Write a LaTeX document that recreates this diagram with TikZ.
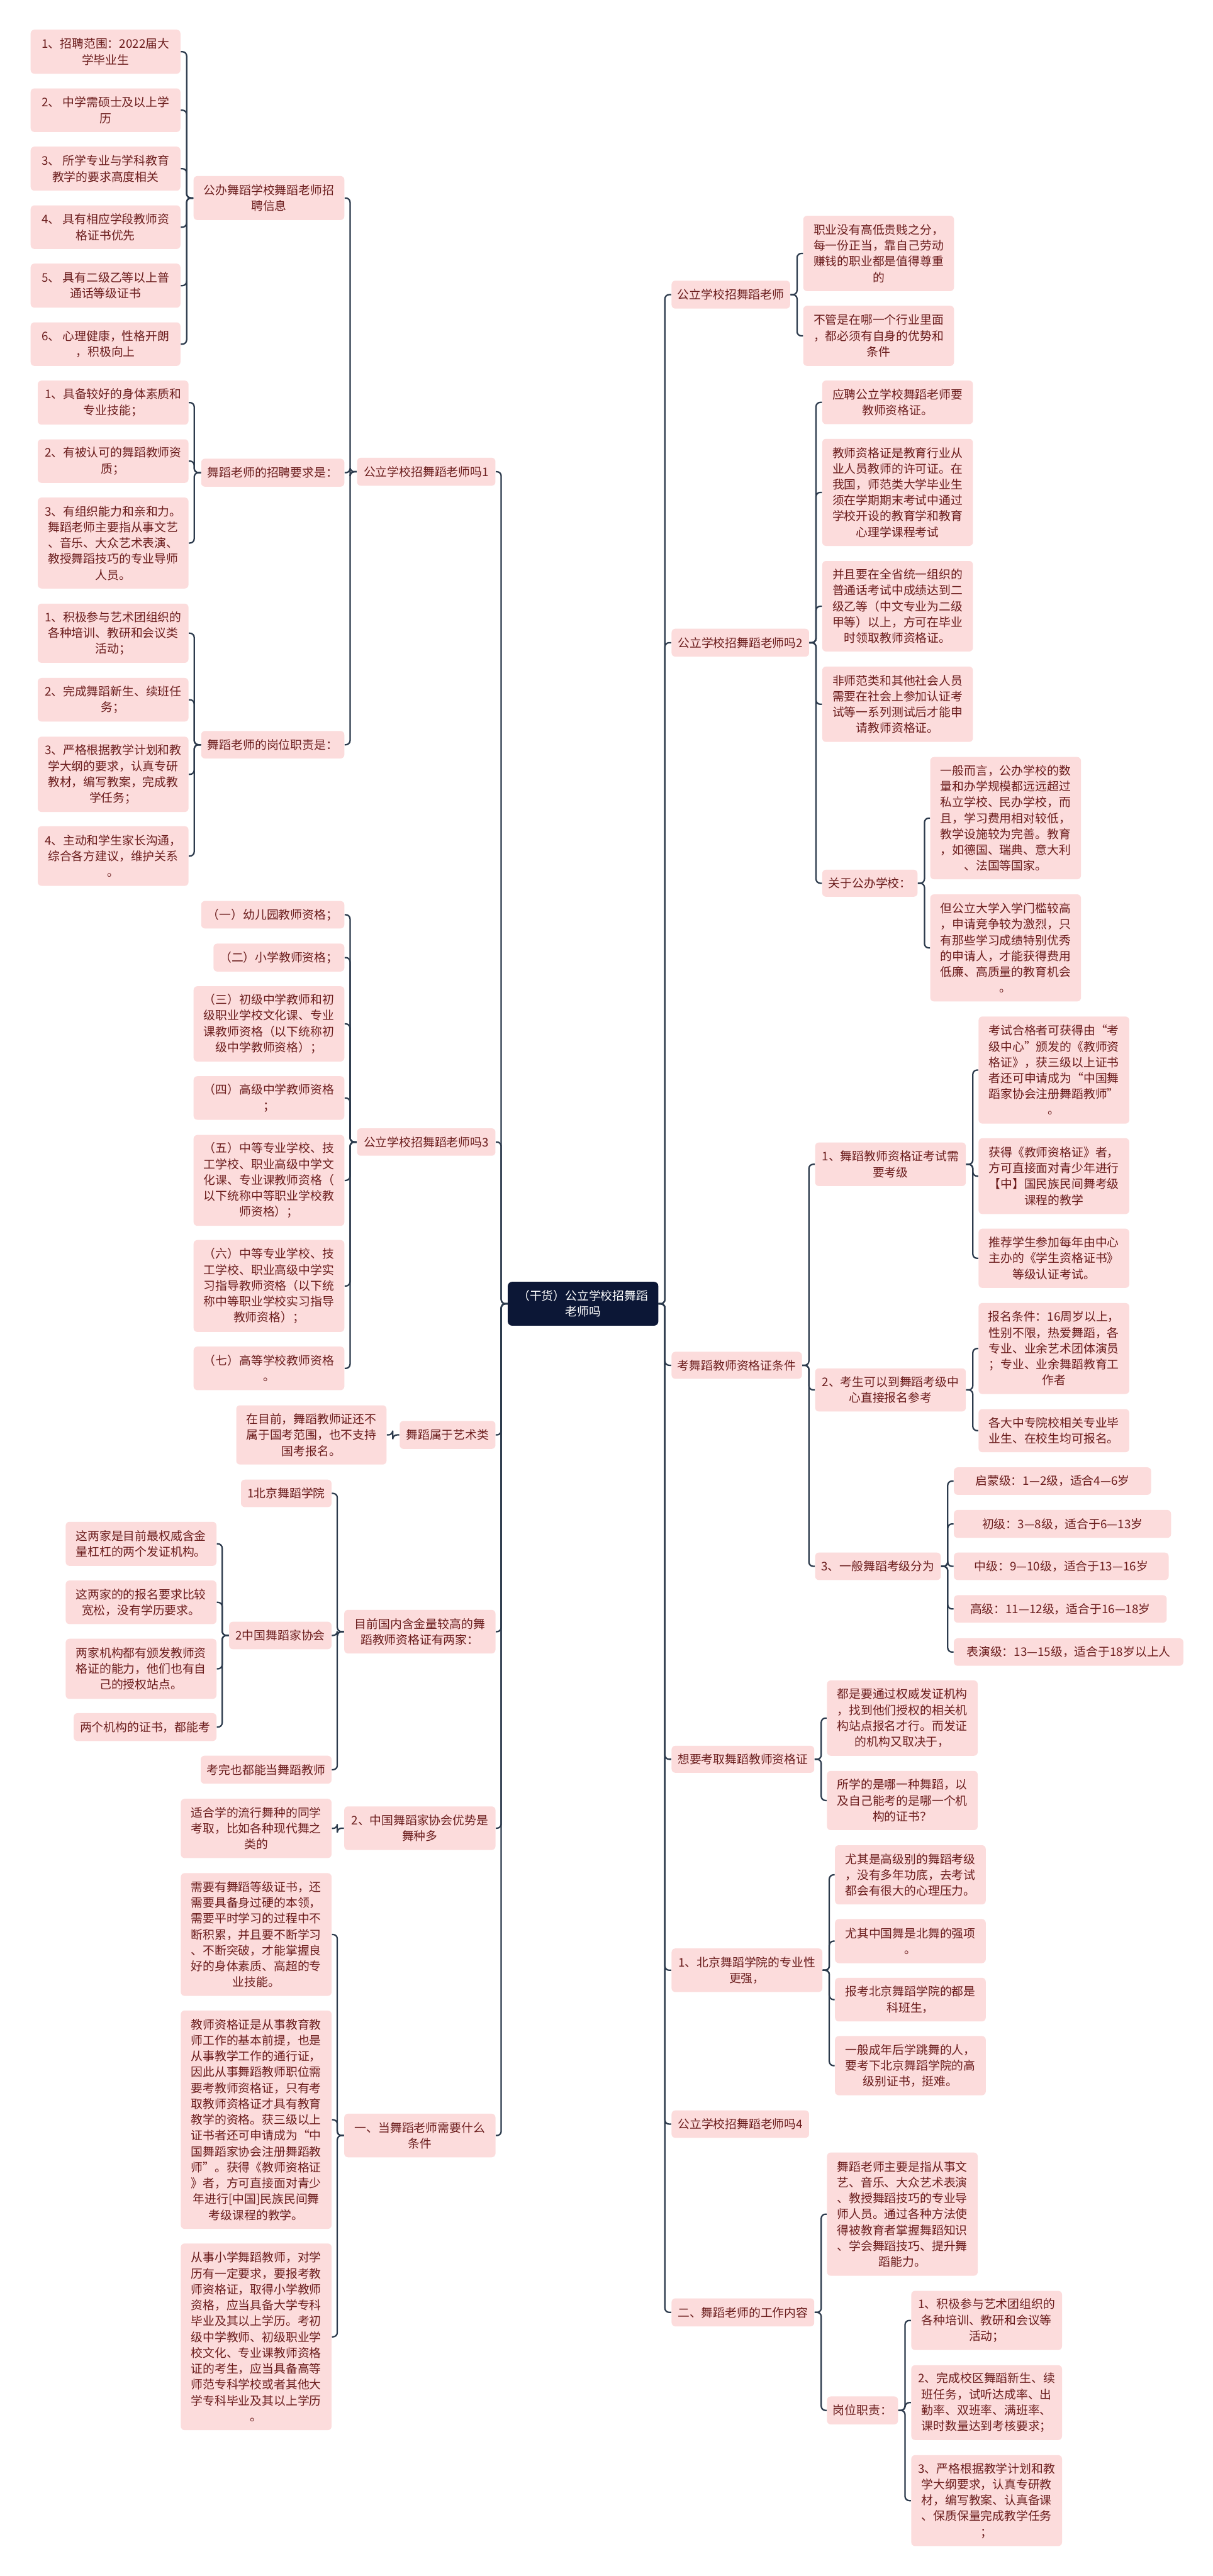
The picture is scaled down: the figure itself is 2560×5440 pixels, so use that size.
\documentclass[tikz,border=0pt]{standalone}
\usepackage{fontspec}
\newfontfamily\cjk{Noto Sans CJK SC}
\definecolor{boxfill}{HTML}{FCDCDC}
\definecolor{boxtext}{HTML}{6B1D1D}
\definecolor{linecol}{HTML}{2C3A4C}
\definecolor{rootfill}{HTML}{0C1736}
\tikzset{
  box/.style={fill=boxfill, rounded corners=0.08cm, inner sep=0pt, align=center,
    text=boxtext, font=\cjk\fontsize{7.11pt}{9.53pt}\selectfont},
  rootbox/.style={fill=rootfill, draw=rootfill, rounded corners=0.08cm, inner sep=0pt, align=center,
    text=white, font=\cjk\fontsize{7.11pt}{9.53pt}\selectfont},
  conn/.style={draw=linecol, line width=0.85pt, rounded corners=0.09cm}
}
\newcommand\mm[6]{%
  \pgfmathsetmacro\mmw{(#4-#2)/100}%
  \pgfmathsetmacro\mmh{(#5-#3)/100}%
  \node[box,anchor=north west,minimum width=\mmw cm,minimum height=\mmh cm] (#1) at (#2,#3) {#6};}
\newcommand\conL[2]{\draw[conn] (#1.west) -- ++(-14,0) |- (#2.east);}
\newcommand\conR[2]{\draw[conn] (#1.east) -- ++(14,0) |- (#2.west);}
\begin{document}
\begin{tikzpicture}[x=0.01cm,y=-0.01cm]
\fill[white] (0,0) rectangle (2560,5440);
\useasboundingbox (0,0) rectangle (2560,5440);
% root
\node[rootbox,anchor=north west,minimum width=3.16cm,minimum height=0.91cm] (root) at (1072,2707) {（干货）公立学校招舞蹈\\老师吗};
% ---------- left side ----------
\mm{A1}{64}{62}{380}{155}{1、招聘范围：2022届大\\学毕业生}
\mm{A2}{64}{186}{380}{278}{2、 中学需硕士及以上学\\历}
\mm{A3}{64}{309}{380}{402}{3、 所学专业与学科教育\\教学的要求高度相关}
\mm{A4}{64}{433}{380}{525}{4、 具有相应学段教师资\\格证书优先}
\mm{A5}{64}{556}{380}{649}{5、 具有二级乙等以上普\\通话等级证书}
\mm{A6}{64}{680}{380}{772}{6、 心理健康，性格开朗\\，积极向上}
\mm{B}{408}{371}{726}{464}{公办舞蹈学校舞蹈老师招\\聘信息}
\mm{C1}{79}{803}{397}{896}{1、具备较好的身体素质和\\专业技能；}
\mm{C2}{79}{927}{397}{1019}{2、有被认可的舞蹈教师资\\质；}
\mm{C3}{79}{1050}{397}{1242}{3、有组织能力和亲和力。\\舞蹈老师主要指从事文艺\\、音乐、大众艺术表演、\\教授舞蹈技巧的专业导师\\人员。}
\mm{D}{424}{968}{726}{1027}{舞蹈老师的招聘要求是：}
\mm{P1}{753}{966}{1045}{1025}{公立学校招舞蹈老师吗1}
\mm{E1}{79}{1274}{397}{1399}{1、积极参与艺术团组织的\\各种培训、教研和会议类\\活动；}
\mm{E2}{79}{1431}{397}{1523}{2、完成舞蹈新生、续班任\\务；}
\mm{E3}{79}{1555}{397}{1714}{3、严格根据教学计划和教\\学大纲的要求，认真专研\\教材，编写教案，完成教\\学任务；}
\mm{E4}{79}{1744}{397}{1870}{4、主动和学生家长沟通，\\综合各方建议，维护关系\\。}
\mm{F}{424}{1543}{726}{1601}{舞蹈老师的岗位职责是：}
\mm{G1}{424}{1902}{726}{1960}{（一）幼儿园教师资格；}
\mm{G2}{450}{1992}{726}{2051}{（二）小学教师资格；}
\mm{G3}{408}{2082}{726}{2241}{（三）初级中学教师和初\\级职业学校文化课、专业\\课教师资格（以下统称初\\级中学教师资格）；}
\mm{G4}{408}{2272}{726}{2364}{（四）高级中学教师资格\\；}
\mm{G5}{408}{2396}{726}{2588}{（五）中等专业学校、技\\工学校、职业高级中学文\\化课、专业课教师资格（\\以下统称中等职业学校教\\师资格）；}
\mm{G6}{408}{2618}{726}{2812}{（六）中等专业学校、技\\工学校、职业高级中学实\\习指导教师资格（以下统\\称中等职业学校实习指导\\教师资格）；}
\mm{G7}{408}{2843}{726}{2935}{（七）高等学校教师资格\\。}
\mm{P3}{753}{2382}{1045}{2440}{公立学校招舞蹈老师吗3}
\mm{H1}{498}{2967}{815}{3092}{在目前，舞蹈教师证还不\\属于国考范围，也不支持\\国考报名。}
\mm{H}{843}{3000}{1045}{3059}{舞蹈属于艺术类}
\mm{I1}{508}{3124}{699}{3182}{1北京舞蹈学院}
\mm{J1}{138}{3213}{456}{3306}{这两家是目前最权威含金\\量杠杠的两个发证机构。}
\mm{J2}{138}{3337}{456}{3429}{这两家的的报名要求比较\\宽松，没有学历要求。}
\mm{J3}{138}{3460}{456}{3587}{两家机构都有颁发教师资\\格证的能力，他们也有自\\己的授权站点。}
\mm{J4}{155}{3617}{456}{3676}{两个机构的证书，都能考}
\mm{I2}{483}{3424}{699}{3482}{2中国舞蹈家协会}
\mm{I3}{423}{3707}{699}{3766}{考完也都能当舞蹈教师}
\mm{I}{726}{3399}{1045}{3491}{目前国内含金量较高的舞\\蹈教师资格证有两家：}
\mm{K1}{381}{3798}{699}{3923}{适合学的流行舞种的同学\\考取，比如各种现代舞之\\类的}
\mm{K}{726}{3814}{1045}{3906}{2、中国舞蹈家协会优势是\\舞种多}
\mm{L1}{381}{3955}{699}{4214}{需要有舞蹈等级证书，还\\需要具备身过硬的本领，\\需要平时学习的过程中不\\断积累，并且要不断学习\\、不断突破，才能掌握良\\好的身体素质、高超的专\\业技能。}
\mm{L2}{381}{4245}{699}{4706}{教师资格证是从事教育教\\师工作的基本前提，也是\\从事教学工作的通行证，\\因此从事舞蹈教师职位需\\要考教师资格证，只有考\\取教师资格证才具有教育\\教学的资格。获三级以上\\证书者还可申请成为“中\\国舞蹈家协会注册舞蹈教\\师”。获得《教师资格证\\》者，方可直接面对青少\\年进行[中国]民族民间舞\\考级课程的教学。}
\mm{L}{726}{4463}{1045}{4555}{一、当舞蹈老师需要什么\\条件}
\mm{L3}{381}{4737}{699}{5131}{从事小学舞蹈教师，对学\\历有一定要求，要报考教\\师资格证，取得小学教师\\资格，应当具备大学专科\\毕业及其以上学历。考初\\级中学教师、初级职业学\\校文化、专业课教师资格\\证的考生，应当具备高等\\师范专科学校或者其他大\\学专科毕业及其以上学历\\。}
% ---------- right side ----------
\mm{R1}{1417}{592}{1667}{651}{公立学校招舞蹈老师}
\mm{R1a}{1695}{455}{2013}{614}{职业没有高低贵贱之分，\\每一份正当，靠自己劳动\\赚钱的职业都是值得尊重\\的}
\mm{R1b}{1695}{645}{2013}{772}{不管是在哪一个行业里面\\，都必须有自身的优势和\\条件}
\mm{R2}{1417}{1327}{1707}{1386}{公立学校招舞蹈老师吗2}
\mm{R2a}{1735}{803}{2053}{895}{应聘公立学校舞蹈老师要\\教师资格证。}
\mm{R2b}{1735}{926}{2053}{1152}{教师资格证是教育行业从\\业人员教师的许可证。在\\我国，师范类大学毕业生\\须在学期期末考试中通过\\学校开设的教育学和教育\\心理学课程考试}
\mm{R2c}{1735}{1184}{2053}{1375}{并且要在全省统一组织的\\普通话考试中成绩达到二\\级乙等（中文专业为二级\\甲等）以上，方可在毕业\\时领取教师资格证。}
\mm{R2d}{1735}{1407}{2053}{1566}{非师范类和其他社会人员\\需要在社会上参加认证考\\试等一系列测试后才能申\\请教师资格证。}
\mm{R2e}{1735}{1836}{1936}{1893}{关于公办学校：}
\mm{R2e1}{1963}{1598}{2281}{1856}{一般而言，公办学校的数\\量和办学规模都远远超过\\私立学校、民办学校，而\\且，学习费用相对较低，\\教学设施较为完善。教育\\，如德国、瑞典、意大利\\、法国等国家。}
\mm{R2e2}{1963}{1888}{2281}{2114}{但公立大学入学门槛较高\\，申请竞争较为激烈，只\\有那些学习成绩特别优秀\\的申请人，才能获得费用\\低廉、高质量的教育机会\\。}
\mm{R3}{1417}{2854}{1692}{2911}{考舞蹈教师资格证条件}
\mm{R3a}{1720}{2412}{2038}{2504}{1、舞蹈教师资格证考试需\\要考级}
\mm{R3a1}{2065}{2146}{2383}{2372}{考试合格者可获得由“考\\级中心”颁发的《教师资\\格证》，获三级以上证书\\者还可申请成为“中国舞\\蹈家协会注册舞蹈教师”\\。}
\mm{R3a2}{2065}{2403}{2383}{2563}{获得《教师资格证》者，\\方可直接面对青少年进行\\【中】国民族民间舞考级\\课程的教学}
\mm{R3a3}{2065}{2594}{2383}{2719}{推荐学生参加每年由中心\\主办的《学生资格证书》\\等级认证考试。}
\mm{R3b}{1720}{2889}{2038}{2980}{2、考生可以到舞蹈考级中\\心直接报名参考}
\mm{R3b1}{2065}{2751}{2383}{2943}{报名条件：16周岁以上，\\性别不限，热爱舞蹈，各\\专业、业余艺术团体演员\\；专业、业余舞蹈教育工\\作者}
\mm{R3b2}{2065}{2975}{2383}{3066}{各大中专院校相关专业毕\\业生、在校生均可报名。}
\mm{R3c}{1720}{3278}{1985}{3336}{3、一般舞蹈考级分为}
\mm{R3c1}{2013}{3098}{2429}{3156}{启蒙级：1—2级，适合4—6岁}
\mm{R3c2}{2013}{3188}{2471}{3247}{初级：3—8级，适合于6—13岁}
\mm{R3c3}{2013}{3278}{2466}{3336}{中级：9—10级，适合于13—16岁}
\mm{R3c4}{2013}{3368}{2462}{3426}{高级：11—12级，适合于16—18岁}
\mm{R3c5}{2013}{3459}{2497}{3517}{表演级：13—15级，适合于18岁以上人}
\mm{R4}{1417}{3686}{1718}{3743}{想要考取舞蹈教师资格证}
\mm{R4a}{1745}{3548}{2063}{3707}{都是要通过权威发证机构\\，找到他们授权的相关机\\构站点报名才行。而发证\\的机构又取决于，}
\mm{R4b}{1745}{3739}{2063}{3864}{所学的是哪一种舞蹈，以\\及自己能考的是哪一个机\\构的证书？}
\mm{R5}{1417}{4114}{1735}{4206}{1、北京舞蹈学院的专业性\\更强，}
\mm{R5a1}{1762}{3896}{2080}{4021}{尤其是高级别的舞蹈考级\\，没有多年功底，去考试\\都会有很大的心理压力。}
\mm{R5a2}{1762}{4052}{2080}{4145}{尤其中国舞是北舞的强项\\。}
\mm{R5a3}{1762}{4176}{2080}{4268}{报考北京舞蹈学院的都是\\科班生，}
\mm{R5a4}{1762}{4299}{2080}{4424}{一般成年后学跳舞的人，\\要考下北京舞蹈学院的高\\级别证书，挺难。}
\mm{R6}{1417}{4456}{1707}{4514}{公立学校招舞蹈老师吗4}
\mm{R7}{1417}{4853}{1718}{4912}{二、舞蹈老师的工作内容}
\mm{R7a}{1745}{4545}{2063}{4805}{舞蹈老师主要是指从事文\\艺、音乐、大众艺术表演\\、教授舞蹈技巧的专业导\\师人员。通过各种方法使\\得被教育者掌握舞蹈知识\\、学会舞蹈技巧、提升舞\\蹈能力。}
\mm{R7b}{1745}{5060}{1895}{5119}{岗位职责：}
\mm{R7b1}{1923}{4837}{2241}{4962}{1、积极参与艺术团组织的\\各种培训、教研和会议等\\活动；}
\mm{R7b2}{1923}{4994}{2241}{5152}{2、完成校区舞蹈新生、续\\班任务，试听达成率、出\\勤率、双班率、满班率、\\课时数量达到考核要求；}
\mm{R7b3}{1923}{5184}{2241}{5376}{3、严格根据教学计划和教\\学大纲要求，认真专研教\\材，编写教案、认真备课\\、保质保量完成教学任务\\；}
% ---------- connectors ----------
\foreach \c in {P1,P3,H,I,K,L} {\conL{root}{\c}}
\foreach \c in {B,D,F} {\conL{P1}{\c}}
\foreach \c in {A1,A2,A3,A4,A5,A6} {\conL{B}{\c}}
\foreach \c in {C1,C2,C3} {\conL{D}{\c}}
\foreach \c in {E1,E2,E3,E4} {\conL{F}{\c}}
\foreach \c in {G1,G2,G3,G4,G5,G6,G7} {\conL{P3}{\c}}
\conL{H}{H1}
\foreach \c in {I1,I2,I3} {\conL{I}{\c}}
\foreach \c in {J1,J2,J3,J4} {\conL{I2}{\c}}
\conL{K}{K1}
\foreach \c in {L1,L2,L3} {\conL{L}{\c}}
\foreach \c in {R1,R2,R3,R4,R5,R6,R7} {\conR{root}{\c}}
\foreach \c in {R1a,R1b} {\conR{R1}{\c}}
\foreach \c in {R2a,R2b,R2c,R2d,R2e} {\conR{R2}{\c}}
\foreach \c in {R2e1,R2e2} {\conR{R2e}{\c}}
\foreach \c in {R3a,R3b,R3c} {\conR{R3}{\c}}
\foreach \c in {R3a1,R3a2,R3a3} {\conR{R3a}{\c}}
\foreach \c in {R3b1,R3b2} {\conR{R3b}{\c}}
\foreach \c in {R3c1,R3c2,R3c3,R3c4,R3c5} {\conR{R3c}{\c}}
\foreach \c in {R4a,R4b} {\conR{R4}{\c}}
\foreach \c in {R5a1,R5a2,R5a3,R5a4} {\conR{R5}{\c}}
\foreach \c in {R7a,R7b} {\conR{R7}{\c}}
\foreach \c in {R7b1,R7b2,R7b3} {\conR{R7b}{\c}}
\end{tikzpicture}
\end{document}
